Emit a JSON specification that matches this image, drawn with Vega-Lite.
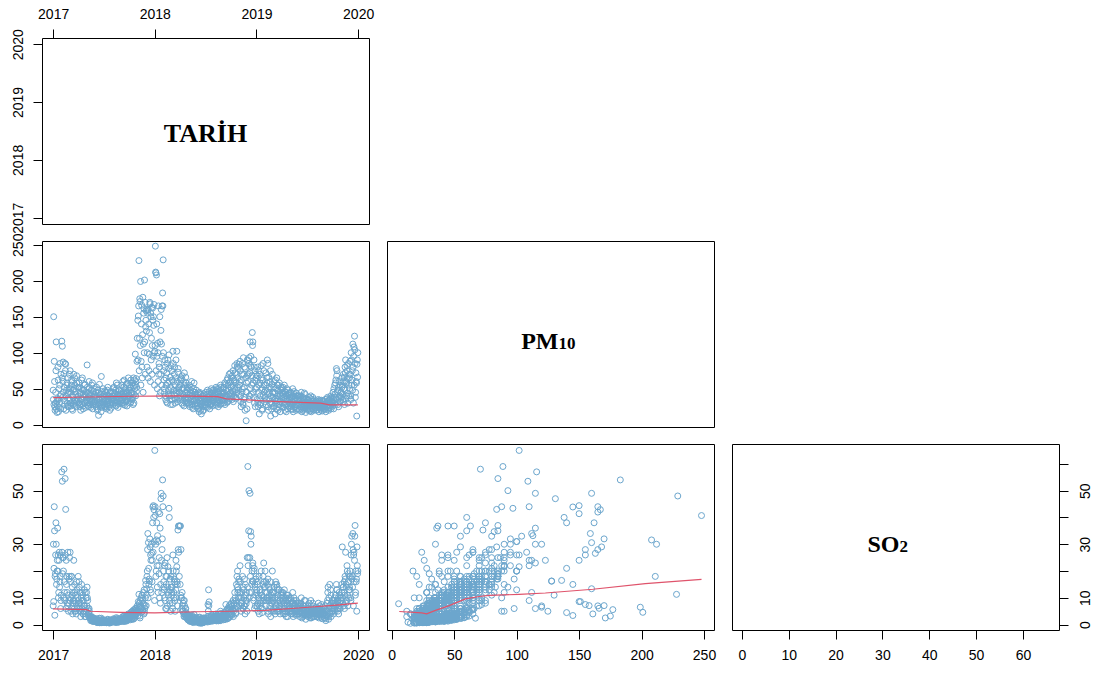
{
"$schema":"https://vega.github.io/schema/vega-lite/v6.json",
"padding":{"left":10,"top":6,"right":0,"bottom":0},
"background":"white",
"config":{"view":{"stroke":"#000","strokeWidth":1},
"axis":{"domain":false,"grid":false,"ticks":true,"tickColor":"#000","tickSize":9,"tickWidth":1,"tickCount":20,"labelFont":"Liberation Sans","labelFontSize":14,"labelColor":"#000","labelFlush":false,"labelOverlap":false,"labelPadding":10}},
"datasets":{
"pol":[
{"d":"2017-01-01","p":48,"s":7},{"d":"2017-01-03","p":150,"s":8.6},{"d":"2017-01-05","p":88,"s":44},{"d":"2017-01-07","p":25,"s":3.5},{"d":"2017-01-09","p":30,"s":19},{"d":"2017-01-11","p":75,"s":38},{"d":"2017-01-13","p":22,"s":15},{"d":"2017-01-15","p":17,"s":20},{"d":"2017-01-17","p":36,"s":36},{"d":"2017-01-19","p":62,"s":26},{"d":"2017-01-21","p":35,"s":12},{"d":"2017-01-23","p":24,"s":27},{"d":"2017-01-25","p":55,"s":16},{"d":"2017-01-27","p":40,"s":26},{"d":"2017-01-29","p":70,"s":9},
{"d":"2017-02-01","p":116,"s":57},{"d":"2017-02-03","p":109,"s":53.5},{"d":"2017-02-05","p":60,"s":25},{"d":"2017-02-07","p":45,"s":20},{"d":"2017-02-09","p":71,"s":58},{"d":"2017-02-11","p":28,"s":12},{"d":"2017-02-13","p":85,"s":54.5},{"d":"2017-02-15","p":84,"s":43},{"d":"2017-02-17","p":40,"s":24},{"d":"2017-02-19","p":55,"s":18},{"d":"2017-02-21","p":30,"s":8},{"d":"2017-02-23","p":65,"s":27},{"d":"2017-02-25","p":25,"s":5},{"d":"2017-02-27","p":50,"s":17},
{"d":"2017-03-01","p":45,"s":25},{"d":"2017-03-03","p":75,"s":27},{"d":"2017-03-05","p":30,"s":10},{"d":"2017-03-07","p":55,"s":18},{"d":"2017-03-09","p":22,"s":6},{"d":"2017-03-11","p":60,"s":14},{"d":"2017-03-13","p":38,"s":8},{"d":"2017-03-15","p":28,"s":12},{"d":"2017-03-17","p":50,"s":9},{"d":"2017-03-19","p":65,"s":15},{"d":"2017-03-21","p":33,"s":5},{"d":"2017-03-23","p":42,"s":11},{"d":"2017-03-25","p":25,"s":4},{"d":"2017-03-27","p":58,"s":13},{"d":"2017-03-29","p":36,"s":7},
{"d":"2017-04-01","p":40,"s":18},{"d":"2017-04-03","p":30,"s":8},{"d":"2017-04-05","p":52,"s":14},{"d":"2017-04-07","p":25,"s":6},{"d":"2017-04-09","p":45,"s":12},{"d":"2017-04-11","p":35,"s":5},{"d":"2017-04-13","p":62,"s":15},{"d":"2017-04-15","p":28,"s":9},{"d":"2017-04-17","p":48,"s":11},{"d":"2017-04-19","p":22,"s":4},{"d":"2017-04-21","p":38,"s":7},{"d":"2017-04-23","p":55,"s":13},{"d":"2017-04-25","p":30,"s":3},{"d":"2017-04-27","p":42,"s":6},{"d":"2017-04-29","p":34,"s":10},
{"d":"2017-05-01","p":45,"s":12},{"d":"2017-05-03","p":83,"s":14},{"d":"2017-05-05","p":30,"s":9},{"d":"2017-05-07","p":38,"s":6},{"d":"2017-05-09","p":25,"s":4},{"d":"2017-05-11","p":50,"s":5},{"d":"2017-05-13","p":33,"s":3},{"d":"2017-05-15","p":42,"s":2.5},{"d":"2017-05-17","p":28,"s":2},{"d":"2017-05-19","p":55,"s":3},{"d":"2017-05-21","p":35,"s":1.8},{"d":"2017-05-23","p":22,"s":1.5},{"d":"2017-05-25","p":46,"s":2.2},{"d":"2017-05-27","p":30,"s":1.2},{"d":"2017-05-29","p":40,"s":1.6},
{"d":"2017-06-01","p":32,"s":1.4},{"d":"2017-06-03","p":45,"s":2},{"d":"2017-06-05","p":25,"s":1},{"d":"2017-06-07","p":38,"s":1.2},{"d":"2017-06-09","p":20,"s":0.8},{"d":"2017-06-11","p":48,"s":1.6},{"d":"2017-06-13","p":13,"s":0.9},{"d":"2017-06-15","p":35,"s":1.1},{"d":"2017-06-17","p":28,"s":0.7},{"d":"2017-06-19","p":42,"s":1.3},{"d":"2017-06-21","p":30,"s":0.9},{"d":"2017-06-23","p":67,"s":2.4},{"d":"2017-06-25","p":24,"s":1},{"d":"2017-06-27","p":36,"s":1.5},{"d":"2017-06-29","p":50,"s":1.8},
{"d":"2017-07-01","p":30,"s":1},{"d":"2017-07-03","p":42,"s":1.2},{"d":"2017-07-05","p":25,"s":0.8},{"d":"2017-07-07","p":38,"s":1.5},{"d":"2017-07-09","p":45,"s":1.3},{"d":"2017-07-11","p":22,"s":0.7},{"d":"2017-07-13","p":35,"s":1},{"d":"2017-07-15","p":48,"s":1.8},{"d":"2017-07-17","p":28,"s":0.9},{"d":"2017-07-19","p":40,"s":1.4},{"d":"2017-07-21","p":33,"s":1.1},{"d":"2017-07-23","p":20,"s":0.6},{"d":"2017-07-25","p":44,"s":1.6},{"d":"2017-07-27","p":31,"s":1.2},{"d":"2017-07-29","p":37,"s":1.5},
{"d":"2017-08-01","p":35,"s":1.3},{"d":"2017-08-03","p":45,"s":1.6},{"d":"2017-08-05","p":28,"s":1},{"d":"2017-08-07","p":52,"s":2},{"d":"2017-08-09","p":40,"s":1.4},{"d":"2017-08-11","p":30,"s":1.2},{"d":"2017-08-13","p":48,"s":1.9},{"d":"2017-08-15","p":26,"s":0.8},{"d":"2017-08-17","p":38,"s":1.5},{"d":"2017-08-19","p":55,"s":2.3},{"d":"2017-08-21","p":33,"s":1.1},{"d":"2017-08-23","p":42,"s":1.7},{"d":"2017-08-25","p":29,"s":1},{"d":"2017-08-27","p":47,"s":2.1},{"d":"2017-08-29","p":36,"s":1.6},
{"d":"2017-09-01","p":40,"s":1.8},{"d":"2017-09-03","p":30,"s":1.2},{"d":"2017-09-05","p":55,"s":2.6},{"d":"2017-09-07","p":35,"s":1.5},{"d":"2017-09-09","p":45,"s":2},{"d":"2017-09-11","p":28,"s":1.3},{"d":"2017-09-13","p":62,"s":3.2},{"d":"2017-09-15","p":38,"s":1.9},{"d":"2017-09-17","p":50,"s":2.4},{"d":"2017-09-19","p":32,"s":1.5},{"d":"2017-09-21","p":44,"s":2.8},{"d":"2017-09-23","p":26,"s":1.4},{"d":"2017-09-25","p":58,"s":3.6},{"d":"2017-09-27","p":36,"s":2.2},{"d":"2017-09-29","p":48,"s":3},
{"d":"2017-10-01","p":40,"s":2.5},{"d":"2017-10-03","p":55,"s":3.8},{"d":"2017-10-05","p":30,"s":1.8},{"d":"2017-10-07","p":62,"s":4.5},{"d":"2017-10-09","p":45,"s":3},{"d":"2017-10-11","p":35,"s":2.2},{"d":"2017-10-13","p":58,"s":5},{"d":"2017-10-15","p":28,"s":2},{"d":"2017-10-17","p":65,"s":5.5},{"d":"2017-10-19","p":42,"s":3.2},{"d":"2017-10-21","p":50,"s":4},{"d":"2017-10-23","p":98,"s":6},{"d":"2017-10-25","p":60,"s":6},{"d":"2017-10-27","p":46,"s":4.2},{"d":"2017-10-29","p":88,"s":5},
{"d":"2017-11-01","p":145,"s":3.4},{"d":"2017-11-03","p":151,"s":8.6},{"d":"2017-11-05","p":228,"s":11.3},{"d":"2017-11-07","p":120,"s":6.5},{"d":"2017-11-09","p":171,"s":2.5},{"d":"2017-11-11","p":199,"s":6.5},{"d":"2017-11-13","p":88,"s":10},{"d":"2017-11-15","p":166,"s":6.1},{"d":"2017-11-17","p":65,"s":9},{"d":"2017-11-19","p":177,"s":5.6},{"d":"2017-11-21","p":112,"s":12},{"d":"2017-11-23","p":161,"s":4},{"d":"2017-11-25","p":201,"s":4.6},{"d":"2017-11-27","p":170,"s":7.1},{"d":"2017-11-29","p":136,"s":16.5},
{"d":"2017-12-01","p":158,"s":7.1},{"d":"2017-12-03","p":160,"s":13.4},{"d":"2017-12-05","p":100,"s":20},{"d":"2017-12-07","p":159,"s":34},{"d":"2017-12-09","p":160,"s":30.6},{"d":"2017-12-11","p":75,"s":15},{"d":"2017-12-13","p":128,"s":16.2},{"d":"2017-12-15","p":168,"s":29},{"d":"2017-12-17","p":155,"s":26},{"d":"2017-12-19","p":90,"s":12},{"d":"2017-12-21","p":163,"s":26.6},{"d":"2017-12-23","p":110,"s":24},{"d":"2017-12-25","p":145,"s":43.9},{"d":"2017-12-27","p":150,"s":44.4},{"d":"2017-12-29","p":167,"s":42.9},{"d":"2017-12-31","p":55,"s":9},
{"d":"2018-01-01","p":102,"s":65},{"d":"2018-01-03","p":248,"s":40.7},{"d":"2018-01-05","p":211,"s":18},{"d":"2018-01-07","p":208,"s":31.6},{"d":"2018-01-09","p":95,"s":22},{"d":"2018-01-11","p":113,"s":33.2},{"d":"2018-01-13","p":60,"s":12},{"d":"2018-01-15","p":70,"s":22},{"d":"2018-01-17","p":80,"s":25},{"d":"2018-01-19","p":150,"s":41.4},{"d":"2018-01-21","p":45,"s":8},{"d":"2018-01-23","p":131,"s":47},{"d":"2018-01-25","p":112,"s":24},{"d":"2018-01-27","p":165,"s":28},{"d":"2018-01-29","p":183,"s":54},{"d":"2018-01-31","p":229,"s":48},
{"d":"2018-02-01","p":100,"s":20},{"d":"2018-02-03","p":62,"s":14},{"d":"2018-02-05","p":45,"s":10},{"d":"2018-02-07","p":80,"s":23},{"d":"2018-02-09","p":35,"s":6},{"d":"2018-02-11","p":55,"s":15},{"d":"2018-02-13","p":72,"s":18},{"d":"2018-02-15","p":30,"s":7},{"d":"2018-02-17","p":90,"s":21.6},{"d":"2018-02-19","p":48,"s":12},{"d":"2018-02-21","p":97,"s":43.4},{"d":"2018-02-23","p":40,"s":9},{"d":"2018-02-25","p":66,"s":17},{"d":"2018-02-27","p":28,"s":5},
{"d":"2018-03-01","p":50,"s":14},{"d":"2018-03-03","p":75,"s":12},{"d":"2018-03-05","p":35,"s":8},{"d":"2018-03-07","p":102,"s":26},{"d":"2018-03-09","p":60,"s":18},{"d":"2018-03-11","p":42,"s":10},{"d":"2018-03-13","p":80,"s":16},{"d":"2018-03-15","p":30,"s":5},{"d":"2018-03-17","p":65,"s":13},{"d":"2018-03-19","p":47,"s":20},{"d":"2018-03-21","p":102,"s":21.6},{"d":"2018-03-23","p":35,"s":15},{"d":"2018-03-25","p":73,"s":35.3},{"d":"2018-03-27","p":50,"s":36.8},{"d":"2018-03-29","p":37,"s":36.8},
{"d":"2018-04-01","p":45,"s":36.8},{"d":"2018-04-03","p":63,"s":36.8},{"d":"2018-04-05","p":65,"s":28},{"d":"2018-04-07","p":35,"s":10},{"d":"2018-04-09","p":68,"s":12},{"d":"2018-04-11","p":28,"s":5},{"d":"2018-04-13","p":50,"s":8},{"d":"2018-04-15","p":40,"s":4},{"d":"2018-04-17","p":72,"s":9},{"d":"2018-04-19","p":32,"s":3},{"d":"2018-04-21","p":45,"s":6},{"d":"2018-04-23","p":58,"s":4.5},{"d":"2018-04-25","p":30,"s":2.5},{"d":"2018-04-27","p":48,"s":3.5},{"d":"2018-04-29","p":38,"s":2},
{"d":"2018-05-01","p":42,"s":2.5},{"d":"2018-05-03","p":30,"s":1.8},{"d":"2018-05-05","p":55,"s":3.2},{"d":"2018-05-07","p":25,"s":1.2},{"d":"2018-05-09","p":48,"s":2.4},{"d":"2018-05-11","p":35,"s":1.5},{"d":"2018-05-13","p":60,"s":3.6},{"d":"2018-05-15","p":28,"s":1.1},{"d":"2018-05-17","p":40,"s":2},{"d":"2018-05-19","p":22,"s":0.8},{"d":"2018-05-21","p":50,"s":2.8},{"d":"2018-05-23","p":33,"s":1.4},{"d":"2018-05-25","p":45,"s":2.2},{"d":"2018-05-27","p":26,"s":0.9},{"d":"2018-05-29","p":38,"s":1.7},
{"d":"2018-06-01","p":30,"s":1.4},{"d":"2018-06-03","p":42,"s":2.2},{"d":"2018-06-05","p":22,"s":0.9},{"d":"2018-06-07","p":35,"s":1.6},{"d":"2018-06-09","p":18,"s":0.6},{"d":"2018-06-11","p":45,"s":2.8},{"d":"2018-06-13","p":28,"s":1.2},{"d":"2018-06-15","p":38,"s":1.9},{"d":"2018-06-17","p":15,"s":0.5},{"d":"2018-06-19","p":33,"s":1.5},{"d":"2018-06-21","p":25,"s":1},{"d":"2018-06-23","p":40,"s":2.4},{"d":"2018-06-25","p":20,"s":0.8},{"d":"2018-06-27","p":36,"s":1.7},{"d":"2018-06-29","p":28,"s":1.3},
{"d":"2018-07-01","p":32,"s":1.5},{"d":"2018-07-03","p":45,"s":2.4},{"d":"2018-07-05","p":25,"s":1.1},{"d":"2018-07-07","p":38,"s":1.8},{"d":"2018-07-09","p":48,"s":3},{"d":"2018-07-11","p":30,"s":7.5},{"d":"2018-07-13","p":42,"s":13},{"d":"2018-07-15","p":35,"s":8.5},{"d":"2018-07-17","p":22,"s":1.2},{"d":"2018-07-19","p":40,"s":2.2},{"d":"2018-07-21","p":28,"s":1.5},{"d":"2018-07-23","p":50,"s":3.4},{"d":"2018-07-25","p":33,"s":1.8},{"d":"2018-07-27","p":26,"s":1.3},{"d":"2018-07-29","p":44,"s":2.6},
{"d":"2018-08-01","p":35,"s":2},{"d":"2018-08-03","p":48,"s":3.2},{"d":"2018-08-05","p":28,"s":1.5},{"d":"2018-08-07","p":42,"s":2.6},{"d":"2018-08-09","p":52,"s":4},{"d":"2018-08-11","p":30,"s":1.8},{"d":"2018-08-13","p":45,"s":3},{"d":"2018-08-15","p":38,"s":2.4},{"d":"2018-08-17","p":25,"s":1.4},{"d":"2018-08-19","p":50,"s":3.8},{"d":"2018-08-21","p":33,"s":2.2},{"d":"2018-08-23","p":40,"s":2.8},{"d":"2018-08-25","p":55,"s":5},{"d":"2018-08-27","p":29,"s":1.7},{"d":"2018-08-29","p":44,"s":3.4},
{"d":"2018-09-01","p":38,"s":2.5},{"d":"2018-09-03","p":50,"s":3.5},{"d":"2018-09-05","p":30,"s":1.8},{"d":"2018-09-07","p":45,"s":3.2},{"d":"2018-09-09","p":58,"s":4.5},{"d":"2018-09-11","p":35,"s":2.4},{"d":"2018-09-13","p":48,"s":7.5},{"d":"2018-09-15","p":40,"s":3},{"d":"2018-09-17","p":62,"s":5.5},{"d":"2018-09-19","p":32,"s":2.2},{"d":"2018-09-21","p":55,"s":6},{"d":"2018-09-23","p":42,"s":4},{"d":"2018-09-25","p":70,"s":7},{"d":"2018-09-27","p":36,"s":3},{"d":"2018-09-29","p":60,"s":6.5},
{"d":"2018-10-01","p":45,"s":4},{"d":"2018-10-03","p":65,"s":8},{"d":"2018-10-05","p":35,"s":3.5},{"d":"2018-10-07","p":55,"s":6},{"d":"2018-10-09","p":75,"s":9},{"d":"2018-10-11","p":40,"s":5},{"d":"2018-10-13","p":60,"s":7.5},{"d":"2018-10-15","p":82,"s":12},{"d":"2018-10-17","p":48,"s":6},{"d":"2018-10-19","p":38,"s":4.5},{"d":"2018-10-21","p":70,"s":15},{"d":"2018-10-23","p":85,"s":18},{"d":"2018-10-25","p":52,"s":20},{"d":"2018-10-27","p":78,"s":13},{"d":"2018-10-29","p":42,"s":16},
{"d":"2018-11-01","p":60,"s":10},{"d":"2018-11-03","p":88,"s":22},{"d":"2018-11-05","p":40,"s":8},{"d":"2018-11-07","p":25,"s":5},{"d":"2018-11-09","p":70,"s":12},{"d":"2018-11-11","p":50,"s":9},{"d":"2018-11-13","p":30,"s":6},{"d":"2018-11-15","p":93,"s":14},{"d":"2018-11-17","p":35,"s":7},{"d":"2018-11-19","p":80,"s":17},{"d":"2018-11-21","p":20,"s":4},{"d":"2018-11-23","p":65,"s":11},{"d":"2018-11-25","p":5.5,"s":7.8},{"d":"2018-11-27","p":45,"s":9},{"d":"2018-11-29","p":90,"s":25},
{"d":"2018-12-01","p":89,"s":59},{"d":"2018-12-03","p":70,"s":25},{"d":"2018-12-05","p":93,"s":50},{"d":"2018-12-07","p":40,"s":12},{"d":"2018-12-09","p":115,"s":49},{"d":"2018-12-11","p":82,"s":34.7},{"d":"2018-12-13","p":80,"s":33},{"d":"2018-12-15","p":55,"s":15},{"d":"2018-12-17","p":128,"s":16.3},{"d":"2018-12-19","p":115,"s":23},{"d":"2018-12-21","p":45,"s":10},{"d":"2018-12-23","p":90,"s":20},{"d":"2018-12-25","p":30,"s":6},{"d":"2018-12-27","p":75,"s":14},{"d":"2018-12-29","p":50,"s":11},{"d":"2018-12-31","p":65,"s":18},
{"d":"2019-01-01","p":60,"s":12},{"d":"2019-01-03","p":35,"s":7},{"d":"2019-01-05","p":80,"s":15},{"d":"2019-01-07","p":25,"s":5},{"d":"2019-01-09","p":55,"s":10},{"d":"2019-01-11","p":15,"s":4},{"d":"2019-01-13","p":70,"s":13},{"d":"2019-01-15","p":40,"s":8},{"d":"2019-01-17","p":30,"s":6},{"d":"2019-01-19","p":65,"s":11},{"d":"2019-01-21","p":20,"s":4.5},{"d":"2019-01-23","p":50,"s":9},{"d":"2019-01-25","p":85,"s":18},{"d":"2019-01-27","p":75,"s":23},{"d":"2019-01-29","p":45,"s":14},
{"d":"2019-02-01","p":38,"s":20},{"d":"2019-02-03","p":55,"s":12},{"d":"2019-02-05","p":28,"s":7},{"d":"2019-02-07","p":65,"s":10},{"d":"2019-02-09","p":90,"s":15},{"d":"2019-02-11","p":85,"s":17},{"d":"2019-02-13","p":20,"s":4},{"d":"2019-02-15","p":45,"s":9},{"d":"2019-02-17","p":35,"s":6},{"d":"2019-02-19","p":60,"s":13},{"d":"2019-02-21","p":12,"s":3},{"d":"2019-02-23","p":50,"s":11},{"d":"2019-02-25","p":30,"s":8},{"d":"2019-02-27","p":70,"s":20},
{"d":"2019-03-01","p":45,"s":12},{"d":"2019-03-03","p":25,"s":6},{"d":"2019-03-05","p":60,"s":14},{"d":"2019-03-07","p":35,"s":8},{"d":"2019-03-09","p":15,"s":4},{"d":"2019-03-11","p":50,"s":16},{"d":"2019-03-13","p":30,"s":7},{"d":"2019-03-15","p":65,"s":15},{"d":"2019-03-17","p":40,"s":10},{"d":"2019-03-19","p":20,"s":5},{"d":"2019-03-21","p":55,"s":13},{"d":"2019-03-23","p":28,"s":6},{"d":"2019-03-25","p":42,"s":9},{"d":"2019-03-27","p":18,"s":4},{"d":"2019-03-29","p":48,"s":11},
{"d":"2019-04-01","p":38,"s":8},{"d":"2019-04-03","p":50,"s":12},{"d":"2019-04-05","p":25,"s":5},{"d":"2019-04-07","p":42,"s":9},{"d":"2019-04-09","p":30,"s":6},{"d":"2019-04-11","p":55,"s":13},{"d":"2019-04-13","p":20,"s":4},{"d":"2019-04-15","p":35,"s":7},{"d":"2019-04-17","p":45,"s":10},{"d":"2019-04-19","p":28,"s":5},{"d":"2019-04-21","p":40,"s":8},{"d":"2019-04-23","p":22,"s":3},{"d":"2019-04-25","p":48,"s":11},{"d":"2019-04-27","p":32,"s":6},{"d":"2019-04-29","p":36,"s":7},
{"d":"2019-05-01","p":30,"s":6},{"d":"2019-05-03","p":45,"s":10},{"d":"2019-05-05","p":22,"s":4},{"d":"2019-05-07","p":38,"s":8},{"d":"2019-05-09","p":28,"s":5},{"d":"2019-05-11","p":50,"s":12},{"d":"2019-05-13","p":18,"s":3},{"d":"2019-05-15","p":35,"s":7},{"d":"2019-05-17","p":42,"s":9},{"d":"2019-05-19","p":25,"s":5},{"d":"2019-05-21","p":33,"s":6},{"d":"2019-05-23","p":20,"s":3.5},{"d":"2019-05-25","p":40,"s":8},{"d":"2019-05-27","p":27,"s":5},{"d":"2019-05-29","p":36,"s":7},
{"d":"2019-06-01","p":28,"s":5},{"d":"2019-06-03","p":40,"s":8},{"d":"2019-06-05","p":20,"s":3},{"d":"2019-06-07","p":35,"s":6},{"d":"2019-06-09","p":25,"s":4.5},{"d":"2019-06-11","p":45,"s":10},{"d":"2019-06-13","p":18,"s":2.5},{"d":"2019-06-15","p":30,"s":5.5},{"d":"2019-06-17","p":38,"s":7},{"d":"2019-06-19","p":22,"s":3.5},{"d":"2019-06-21","p":33,"s":6},{"d":"2019-06-23","p":26,"s":4},{"d":"2019-06-25","p":42,"s":9},{"d":"2019-06-27","p":17,"s":2},{"d":"2019-06-29","p":30,"s":5},
{"d":"2019-07-01","p":25,"s":4},{"d":"2019-07-03","p":35,"s":6},{"d":"2019-07-05","p":20,"s":3},{"d":"2019-07-07","p":30,"s":5},{"d":"2019-07-09","p":38,"s":8},{"d":"2019-07-11","p":22,"s":3.5},{"d":"2019-07-13","p":28,"s":4.5},{"d":"2019-07-15","p":40,"s":9},{"d":"2019-07-17","p":18,"s":2.5},{"d":"2019-07-19","p":32,"s":5.5},{"d":"2019-07-21","p":26,"s":4},{"d":"2019-07-23","p":35,"s":7},{"d":"2019-07-25","p":20,"s":3},{"d":"2019-07-27","p":29,"s":5},{"d":"2019-07-29","p":24,"s":4},
{"d":"2019-08-01","p":27,"s":5},{"d":"2019-08-03","p":33,"s":6.5},{"d":"2019-08-05","p":20,"s":3},{"d":"2019-08-07","p":30,"s":5.5},{"d":"2019-08-09","p":24,"s":4},{"d":"2019-08-11","p":35,"s":8},{"d":"2019-08-13","p":18,"s":2.5},{"d":"2019-08-15","p":28,"s":5},{"d":"2019-08-17","p":32,"s":6},{"d":"2019-08-19","p":22,"s":3.5},{"d":"2019-08-21","p":26,"s":4.5},{"d":"2019-08-23","p":34,"s":7.5},{"d":"2019-08-25","p":19,"s":2.2},{"d":"2019-08-27","p":29,"s":5},{"d":"2019-08-29","p":25,"s":4},
{"d":"2019-09-01","p":28,"s":4},{"d":"2019-09-03","p":22,"s":2.5},{"d":"2019-09-05","p":35,"s":7},{"d":"2019-09-07","p":18,"s":1.5},{"d":"2019-09-09","p":30,"s":5},{"d":"2019-09-11","p":25,"s":3},{"d":"2019-09-13","p":38,"s":9},{"d":"2019-09-15","p":32,"s":14},{"d":"2019-09-17","p":20,"s":2},{"d":"2019-09-19","p":27,"s":6},{"d":"2019-09-21","p":35,"s":15},{"d":"2019-09-23","p":24,"s":4},{"d":"2019-09-25","p":40,"s":11},{"d":"2019-09-27","p":29,"s":8},{"d":"2019-09-29","p":33,"s":5},
{"d":"2019-10-01","p":30,"s":6},{"d":"2019-10-03","p":45,"s":8},{"d":"2019-10-05","p":22,"s":4},{"d":"2019-10-07","p":38,"s":7},{"d":"2019-10-09","p":55,"s":10},{"d":"2019-10-11","p":28,"s":5},{"d":"2019-10-13","p":62,"s":11},{"d":"2019-10-15","p":78,"s":15},{"d":"2019-10-17","p":75,"s":13},{"d":"2019-10-19","p":35,"s":6},{"d":"2019-10-21","p":48,"s":9},{"d":"2019-10-23","p":25,"s":4},{"d":"2019-10-25","p":60,"s":12},{"d":"2019-10-27","p":40,"s":8},{"d":"2019-10-29","p":32,"s":6},
{"d":"2019-11-01","p":45,"s":10},{"d":"2019-11-03","p":65,"s":15},{"d":"2019-11-05","p":55,"s":29},{"d":"2019-11-07","p":35,"s":8},{"d":"2019-11-09","p":70,"s":14},{"d":"2019-11-11","p":50,"s":12},{"d":"2019-11-13","p":28,"s":6},{"d":"2019-11-15","p":80,"s":18},{"d":"2019-11-17","p":90,"s":27},{"d":"2019-11-19","p":60,"s":15},{"d":"2019-11-21","p":40,"s":9},{"d":"2019-11-23","p":75,"s":20},{"d":"2019-11-25","p":30,"s":7},{"d":"2019-11-27","p":85,"s":19},{"d":"2019-11-29","p":55,"s":13},
{"d":"2019-12-01","p":65,"s":14},{"d":"2019-12-03","p":88,"s":20},{"d":"2019-12-05","p":40,"s":10},{"d":"2019-12-07","p":100,"s":26},{"d":"2019-12-09","p":55,"s":33},{"d":"2019-12-11","p":75,"s":18},{"d":"2019-12-13","p":112,"s":34},{"d":"2019-12-15","p":30,"s":7},{"d":"2019-12-17","p":108,"s":27},{"d":"2019-12-19","p":123,"s":24},{"d":"2019-12-21","p":85,"s":37},{"d":"2019-12-23","p":45,"s":12},{"d":"2019-12-25","p":60,"s":16},{"d":"2019-12-27","p":12,"s":5},{"d":"2019-12-29","p":90,"s":22},{"d":"2019-12-31","p":100,"s":20},
{"d":"2017-01-02","p":35,"s":30},{"d":"2017-01-04","p":28,"s":21},{"d":"2017-01-06","p":60,"s":35},{"d":"2017-01-08","p":20,"s":18},{"d":"2017-01-10","p":45,"s":26},{"d":"2017-01-12","p":115,"s":30},{"d":"2017-01-14","p":32,"s":17},{"d":"2017-01-16","p":26,"s":24},{"d":"2017-01-18","p":80,"s":20},{"d":"2017-01-20","p":18,"s":10},{"d":"2017-01-22","p":50,"s":24},{"d":"2017-01-24","p":30,"s":14},{"d":"2017-01-26","p":85,"s":18},{"d":"2017-01-28","p":22,"s":6},{"d":"2017-01-30","p":42,"s":11},
{"d":"2017-02-02","p":65,"s":27},{"d":"2017-02-04","p":38,"s":19},{"d":"2017-02-06","p":87,"s":25},{"d":"2017-02-08","p":22,"s":10},{"d":"2017-02-10","p":52,"s":16},{"d":"2017-02-12","p":33,"s":9},{"d":"2017-02-14","p":75,"s":26},{"d":"2017-02-16","p":20,"s":6},{"d":"2017-02-18","p":48,"s":15},{"d":"2017-02-20","p":58,"s":12},{"d":"2017-02-22","p":26,"s":7},{"d":"2017-02-24","p":44,"s":11},{"d":"2017-02-26","p":36,"s":8},{"d":"2017-02-28","p":70,"s":18},
{"d":"2017-03-02","p":35,"s":9},{"d":"2017-03-04","p":50,"s":16},{"d":"2017-03-06","p":26,"s":5},{"d":"2017-03-08","p":62,"s":18},{"d":"2017-03-10","p":40,"s":11},{"d":"2017-03-12","p":20,"s":4},{"d":"2017-03-14","p":48,"s":9},{"d":"2017-03-16","p":70,"s":24},{"d":"2017-03-18","p":30,"s":6},{"d":"2017-03-20","p":55,"s":12},{"d":"2017-03-22","p":27,"s":5},{"d":"2017-03-24","p":46,"s":8},{"d":"2017-03-26","p":68,"s":16},{"d":"2017-03-28","p":32,"s":6},{"d":"2017-03-30","p":52,"s":10},
{"d":"2017-04-02","p":35,"s":9},{"d":"2017-04-04","p":58,"s":16},{"d":"2017-04-06","p":28,"s":5},{"d":"2017-04-08","p":44,"s":8},{"d":"2017-04-10","p":20,"s":3},{"d":"2017-04-12","p":50,"s":10},{"d":"2017-04-14","p":36,"s":6},{"d":"2017-04-16","p":65,"s":12},{"d":"2017-04-18","p":26,"s":4},{"d":"2017-04-20","p":42,"s":9},{"d":"2017-04-22","p":48,"s":5},{"d":"2017-04-24","p":32,"s":7},{"d":"2017-04-26","p":56,"s":12},{"d":"2017-04-28","p":24,"s":3},{"d":"2017-04-30","p":40,"s":5},
{"d":"2017-05-02","p":35,"s":7},{"d":"2017-05-04","p":52,"s":10},{"d":"2017-05-06","p":27,"s":3.5},{"d":"2017-05-08","p":44,"s":4},{"d":"2017-05-10","p":60,"s":6},{"d":"2017-05-12","p":30,"s":2.5},{"d":"2017-05-14","p":40,"s":3},{"d":"2017-05-16","p":24,"s":1.5},{"d":"2017-05-18","p":48,"s":2.8},{"d":"2017-05-20","p":32,"s":1.4},{"d":"2017-05-22","p":58,"s":2.6},{"d":"2017-05-24","p":28,"s":1.2},{"d":"2017-05-26","p":38,"s":1.8},{"d":"2017-05-28","p":50,"s":2.4},{"d":"2017-05-30","p":33,"s":1.5},
{"d":"2017-06-02","p":40,"s":1.8},{"d":"2017-06-04","p":28,"s":1},{"d":"2017-06-06","p":52,"s":2.2},{"d":"2017-06-08","p":34,"s":1.3},{"d":"2017-06-10","p":22,"s":0.8},{"d":"2017-06-12","p":44,"s":1.7},{"d":"2017-06-14","p":30,"s":1},{"d":"2017-06-16","p":56,"s":2.4},{"d":"2017-06-18","p":25,"s":0.9},{"d":"2017-06-20","p":38,"s":1.4},{"d":"2017-06-22","p":18,"s":0.7},{"d":"2017-06-24","p":46,"s":1.9},{"d":"2017-06-26","p":31,"s":1.2},{"d":"2017-06-28","p":27,"s":0.8},{"d":"2017-06-30","p":40,"s":1.5},
{"d":"2017-07-02","p":36,"s":1.3},{"d":"2017-07-04","p":27,"s":0.9},{"d":"2017-07-06","p":47,"s":1.7},{"d":"2017-07-08","p":32,"s":1.1},{"d":"2017-07-10","p":24,"s":0.8},{"d":"2017-07-12","p":41,"s":1.4},{"d":"2017-07-14","p":29,"s":1},{"d":"2017-07-16","p":52,"s":2},{"d":"2017-07-18","p":34,"s":1.2},{"d":"2017-07-20","p":25,"s":0.7},{"d":"2017-07-22","p":39,"s":1.3},{"d":"2017-07-24","p":30,"s":1},{"d":"2017-07-26","p":46,"s":1.8},{"d":"2017-07-28","p":23,"s":0.8},{"d":"2017-07-30","p":35,"s":1.3},
{"d":"2017-08-02","p":30,"s":1.1},{"d":"2017-08-04","p":40,"s":1.5},{"d":"2017-08-06","p":50,"s":2.2},{"d":"2017-08-08","p":33,"s":1.2},{"d":"2017-08-10","p":44,"s":1.8},{"d":"2017-08-12","p":27,"s":0.9},{"d":"2017-08-14","p":37,"s":1.4},{"d":"2017-08-16","p":58,"s":2.6},{"d":"2017-08-18","p":31,"s":1.1},{"d":"2017-08-20","p":41,"s":1.6},{"d":"2017-08-22","p":24,"s":0.9},{"d":"2017-08-24","p":49,"s":2},{"d":"2017-08-26","p":36,"s":1.3},{"d":"2017-08-28","p":43,"s":1.8},{"d":"2017-08-30","p":32,"s":1.2},
{"d":"2017-09-02","p":46,"s":2.1},{"d":"2017-09-04","p":34,"s":1.5},{"d":"2017-09-06","p":42,"s":1.9},{"d":"2017-09-08","p":60,"s":3},{"d":"2017-09-10","p":30,"s":1.3},{"d":"2017-09-12","p":52,"s":2.5},{"d":"2017-09-14","p":40,"s":2},{"d":"2017-09-16","p":27,"s":1.2},{"d":"2017-09-18","p":47,"s":2.3},{"d":"2017-09-20","p":56,"s":3.1},{"d":"2017-09-22","p":33,"s":1.7},{"d":"2017-09-24","p":45,"s":2.4},{"d":"2017-09-26","p":38,"s":2},{"d":"2017-09-28","p":65,"s":4},{"d":"2017-09-30","p":42,"s":2.6},
{"d":"2017-10-02","p":48,"s":3.4},{"d":"2017-10-04","p":36,"s":2.5},{"d":"2017-10-06","p":52,"s":4},{"d":"2017-10-08","p":32,"s":2},{"d":"2017-10-10","p":58,"s":4.8},{"d":"2017-10-12","p":44,"s":3.3},{"d":"2017-10-14","p":38,"s":2.7},{"d":"2017-10-16","p":54,"s":4.5},{"d":"2017-10-18","p":30,"s":2.2},{"d":"2017-10-20","p":62,"s":5},{"d":"2017-10-22","p":55,"s":4.6},{"d":"2017-10-24","p":40,"s":3.2},{"d":"2017-10-26","p":64,"s":5.4},{"d":"2017-10-28","p":52,"s":4.4},{"d":"2017-10-30","p":120,"s":7},
{"d":"2017-11-02","p":90,"s":5},{"d":"2017-11-04","p":165,"s":7},{"d":"2017-11-06","p":75,"s":8},{"d":"2017-11-08","p":175,"s":3.2},{"d":"2017-11-10","p":110,"s":9},{"d":"2017-11-12","p":55,"s":6},{"d":"2017-11-14","p":140,"s":4.5},{"d":"2017-11-16","p":80,"s":11},{"d":"2017-11-18","p":125,"s":5},{"d":"2017-11-20","p":45,"s":8},{"d":"2017-11-22","p":155,"s":7.5},{"d":"2017-11-24","p":100,"s":13},{"d":"2017-11-26","p":115,"s":6},{"d":"2017-11-28","p":70,"s":10},{"d":"2017-11-30","p":145,"s":15},
{"d":"2017-12-02","p":130,"s":11},{"d":"2017-12-04","p":80,"s":18},{"d":"2017-12-06","p":155,"s":28},{"d":"2017-12-08","p":65,"s":10},{"d":"2017-12-10","p":140,"s":21},{"d":"2017-12-12","p":98,"s":17},{"d":"2017-12-14","p":170,"s":32},{"d":"2017-12-16","p":60,"s":13},{"d":"2017-12-18","p":150,"s":24},{"d":"2017-12-20","p":120,"s":30},{"d":"2017-12-22","p":70,"s":16},{"d":"2017-12-24","p":162,"s":38},{"d":"2017-12-26","p":95,"s":27},{"d":"2017-12-28","p":138,"s":40},{"d":"2017-12-30","p":100,"s":31},
{"d":"2018-01-02","p":110,"s":44},{"d":"2018-01-04","p":212,"s":30},{"d":"2018-01-06","p":75,"s":20},{"d":"2018-01-08","p":140,"s":38},{"d":"2018-01-10","p":50,"s":14},{"d":"2018-01-12","p":100,"s":31},{"d":"2018-01-14","p":165,"s":42},{"d":"2018-01-16","p":85,"s":19},{"d":"2018-01-18","p":40,"s":10},{"d":"2018-01-20","p":115,"s":36},{"d":"2018-01-22","p":70,"s":15},{"d":"2018-01-24","p":160,"s":49},{"d":"2018-01-26","p":55,"s":12},{"d":"2018-01-28","p":95,"s":32},{"d":"2018-01-30","p":165,"s":44},
{"d":"2018-02-02","p":75,"s":16},{"d":"2018-02-04","p":50,"s":13},{"d":"2018-02-06","p":90,"s":22},{"d":"2018-02-08","p":40,"s":9},{"d":"2018-02-10","p":65,"s":18},{"d":"2018-02-12","p":32,"s":6},{"d":"2018-02-14","p":85,"s":25},{"d":"2018-02-16","p":58,"s":14},{"d":"2018-02-18","p":42,"s":11},{"d":"2018-02-20","p":78,"s":20},{"d":"2018-02-22","p":60,"s":40},{"d":"2018-02-24","p":35,"s":8},{"d":"2018-02-26","p":52,"s":13},{"d":"2018-02-28","p":82,"s":18},
{"d":"2018-03-02","p":40,"s":11},{"d":"2018-03-04","p":62,"s":14},{"d":"2018-03-06","p":28,"s":6},{"d":"2018-03-08","p":85,"s":20},{"d":"2018-03-10","p":48,"s":12},{"d":"2018-03-12","p":70,"s":17},{"d":"2018-03-14","p":36,"s":9},{"d":"2018-03-16","p":55,"s":15},{"d":"2018-03-18","p":90,"s":24},{"d":"2018-03-20","p":44,"s":10},{"d":"2018-03-22","p":60,"s":16},{"d":"2018-03-24","p":32,"s":7},{"d":"2018-03-26","p":78,"s":28},{"d":"2018-03-28","p":52,"s":27},{"d":"2018-03-30","p":45,"s":18},
{"d":"2018-04-02","p":55,"s":15},{"d":"2018-04-04","p":40,"s":11},{"d":"2018-04-06","p":62,"s":10},{"d":"2018-04-08","p":30,"s":6},{"d":"2018-04-10","p":50,"s":7},{"d":"2018-04-12","p":42,"s":5},{"d":"2018-04-14","p":60,"s":9},{"d":"2018-04-16","p":26,"s":3},{"d":"2018-04-18","p":55,"s":7},{"d":"2018-04-20","p":38,"s":4},{"d":"2018-04-22","p":66,"s":6},{"d":"2018-04-24","p":34,"s":3},{"d":"2018-04-26","p":44,"s":4},{"d":"2018-04-28","p":52,"s":3},{"d":"2018-04-30","p":30,"s":1.8},
{"d":"2018-05-02","p":36,"s":2},{"d":"2018-05-04","p":50,"s":3},{"d":"2018-05-06","p":28,"s":1.4},{"d":"2018-05-08","p":44,"s":2.6},{"d":"2018-05-10","p":32,"s":1.6},{"d":"2018-05-12","p":52,"s":3.2},{"d":"2018-05-14","p":40,"s":2.2},{"d":"2018-05-16","p":24,"s":1},{"d":"2018-05-18","p":46,"s":2.5},{"d":"2018-05-20","p":34,"s":1.6},{"d":"2018-05-22","p":58,"s":3.8},{"d":"2018-05-24","p":29,"s":1.2},{"d":"2018-05-26","p":42,"s":2.3},{"d":"2018-05-28","p":35,"s":1.8},{"d":"2018-05-30","p":48,"s":2.7},
{"d":"2018-06-02","p":26,"s":1.1},{"d":"2018-06-04","p":38,"s":1.8},{"d":"2018-06-06","p":30,"s":1.3},{"d":"2018-06-08","p":44,"s":2.6},{"d":"2018-06-10","p":24,"s":0.9},{"d":"2018-06-12","p":34,"s":1.6},{"d":"2018-06-14","p":20,"s":0.7},{"d":"2018-06-16","p":42,"s":2.2},{"d":"2018-06-18","p":29,"s":1.2},{"d":"2018-06-20","p":37,"s":1.9},{"d":"2018-06-22","p":19,"s":0.7},{"d":"2018-06-24","p":31,"s":1.4},{"d":"2018-06-26","p":43,"s":2.5},{"d":"2018-06-28","p":25,"s":1},{"d":"2018-06-30","p":35,"s":1.7},
{"d":"2018-07-02","p":28,"s":1.2},{"d":"2018-07-04","p":36,"s":1.7},{"d":"2018-07-06","p":42,"s":2.3},{"d":"2018-07-08","p":30,"s":1.4},{"d":"2018-07-10","p":24,"s":1},{"d":"2018-07-12","p":38,"s":5},{"d":"2018-07-14","p":34,"s":7},{"d":"2018-07-16","p":46,"s":3.2},{"d":"2018-07-18","p":27,"s":1.3},{"d":"2018-07-20","p":35,"s":1.8},{"d":"2018-07-22","p":44,"s":2.8},{"d":"2018-07-24","p":30,"s":1.5},{"d":"2018-07-26","p":38,"s":2.1},{"d":"2018-07-28","p":48,"s":3.3},{"d":"2018-07-30","p":32,"s":1.7},
{"d":"2018-08-02","p":40,"s":2.6},{"d":"2018-08-04","p":31,"s":1.8},{"d":"2018-08-06","p":46,"s":3},{"d":"2018-08-08","p":36,"s":2.2},{"d":"2018-08-10","p":27,"s":1.4},{"d":"2018-08-12","p":50,"s":3.6},{"d":"2018-08-14","p":34,"s":2},{"d":"2018-08-16","p":43,"s":2.9},{"d":"2018-08-18","p":30,"s":1.6},{"d":"2018-08-20","p":47,"s":3.2},{"d":"2018-08-22","p":38,"s":2.5},{"d":"2018-08-24","p":28,"s":1.5},{"d":"2018-08-26","p":52,"s":4.2},{"d":"2018-08-28","p":40,"s":2.7},{"d":"2018-08-30","p":34,"s":2.1},
{"d":"2018-09-02","p":44,"s":3},{"d":"2018-09-04","p":33,"s":2.3},{"d":"2018-09-06","p":52,"s":4},{"d":"2018-09-08","p":40,"s":2.8},{"d":"2018-09-10","p":28,"s":1.9},{"d":"2018-09-12","p":56,"s":5},{"d":"2018-09-14","p":37,"s":2.7},{"d":"2018-09-16","p":46,"s":3.6},{"d":"2018-09-18","p":31,"s":2.2},{"d":"2018-09-20","p":65,"s":6},{"d":"2018-09-22","p":48,"s":4.2},{"d":"2018-09-24","p":34,"s":2.6},{"d":"2018-09-26","p":58,"s":5.5},{"d":"2018-09-28","p":43,"s":3.8},{"d":"2018-09-30","p":72,"s":7.5},
{"d":"2018-10-02","p":52,"s":5},{"d":"2018-10-04","p":40,"s":4},{"d":"2018-10-06","p":68,"s":7},{"d":"2018-10-08","p":46,"s":5.5},{"d":"2018-10-10","p":32,"s":3},{"d":"2018-10-12","p":62,"s":8},{"d":"2018-10-14","p":50,"s":6},{"d":"2018-10-16","p":72,"s":10},{"d":"2018-10-18","p":36,"s":4},{"d":"2018-10-20","p":58,"s":9},{"d":"2018-10-22","p":44,"s":7},{"d":"2018-10-24","p":80,"s":14},{"d":"2018-10-26","p":65,"s":12},{"d":"2018-10-28","p":48,"s":10},{"d":"2018-10-30","p":84,"s":17},
{"d":"2018-11-02","p":55,"s":12},{"d":"2018-11-04","p":75,"s":16},{"d":"2018-11-06","p":32,"s":7},{"d":"2018-11-08","p":62,"s":10},{"d":"2018-11-10","p":45,"s":8},{"d":"2018-11-12","p":85,"s":18},{"d":"2018-11-14","p":28,"s":6},{"d":"2018-11-16","p":70,"s":13},{"d":"2018-11-18","p":52,"s":10},{"d":"2018-11-20","p":38,"s":7},{"d":"2018-11-22","p":78,"s":15},{"d":"2018-11-24","p":46,"s":9},{"d":"2018-11-26","p":58,"s":12},{"d":"2018-11-28","p":22,"s":5},{"d":"2018-11-30","p":68,"s":14},
{"d":"2018-12-02","p":60,"s":22},{"d":"2018-12-04","p":85,"s":35},{"d":"2018-12-06","p":35,"s":10},{"d":"2018-12-08","p":72,"s":25},{"d":"2018-12-10","p":50,"s":18},{"d":"2018-12-12","p":95,"s":30},{"d":"2018-12-14","p":42,"s":12},{"d":"2018-12-16","p":68,"s":20},{"d":"2018-12-18","p":110,"s":22},{"d":"2018-12-20","p":58,"s":16},{"d":"2018-12-22","p":38,"s":9},{"d":"2018-12-24","p":80,"s":21},{"d":"2018-12-26","p":62,"s":15},{"d":"2018-12-28","p":25,"s":7},{"d":"2018-12-30","p":70,"s":17},
{"d":"2019-01-02","p":52,"s":13},{"d":"2019-01-04","p":68,"s":16},{"d":"2019-01-06","p":30,"s":8},{"d":"2019-01-08","p":45,"s":11},{"d":"2019-01-10","p":75,"s":18},{"d":"2019-01-12","p":28,"s":7},{"d":"2019-01-14","p":58,"s":12},{"d":"2019-01-16","p":35,"s":9},{"d":"2019-01-18","p":82,"s":20},{"d":"2019-01-20","p":48,"s":11},{"d":"2019-01-22","p":22,"s":6},{"d":"2019-01-24","p":62,"s":15},{"d":"2019-01-26","p":40,"s":10},{"d":"2019-01-28","p":55,"s":16},{"d":"2019-01-30","p":32,"s":9},
{"d":"2019-02-02","p":48,"s":14},{"d":"2019-02-04","p":72,"s":16},{"d":"2019-02-06","p":35,"s":9},{"d":"2019-02-08","p":58,"s":12},{"d":"2019-02-10","p":42,"s":10},{"d":"2019-02-12","p":25,"s":5},{"d":"2019-02-14","p":66,"s":14},{"d":"2019-02-16","p":52,"s":11},{"d":"2019-02-18","p":30,"s":7},{"d":"2019-02-20","p":75,"s":16},{"d":"2019-02-22","p":40,"s":9},{"d":"2019-02-24","p":22,"s":5},{"d":"2019-02-26","p":56,"s":12},{"d":"2019-02-28","p":44,"s":10},
{"d":"2019-03-02","p":38,"s":9},{"d":"2019-03-04","p":52,"s":12},{"d":"2019-03-06","p":26,"s":5},{"d":"2019-03-08","p":44,"s":10},{"d":"2019-03-10","p":62,"s":15},{"d":"2019-03-12","p":33,"s":7},{"d":"2019-03-14","p":22,"s":5},{"d":"2019-03-16","p":55,"s":14},{"d":"2019-03-18","p":36,"s":8},{"d":"2019-03-20","p":47,"s":11},{"d":"2019-03-22","p":24,"s":5},{"d":"2019-03-24","p":58,"s":13},{"d":"2019-03-26","p":32,"s":7},{"d":"2019-03-28","p":40,"s":9},{"d":"2019-03-30","p":52,"s":12},
{"d":"2019-04-02","p":44,"s":10},{"d":"2019-04-04","p":30,"s":6},{"d":"2019-04-06","p":52,"s":12},{"d":"2019-04-08","p":24,"s":4},{"d":"2019-04-10","p":38,"s":8},{"d":"2019-04-12","p":46,"s":10},{"d":"2019-04-14","p":28,"s":5},{"d":"2019-04-16","p":40,"s":9},{"d":"2019-04-18","p":18,"s":3},{"d":"2019-04-20","p":50,"s":11},{"d":"2019-04-22","p":34,"s":7},{"d":"2019-04-24","p":42,"s":9},{"d":"2019-04-26","p":26,"s":5},{"d":"2019-04-28","p":44,"s":10},{"d":"2019-04-30","p":30,"s":6},
{"d":"2019-05-02","p":38,"s":8},{"d":"2019-05-04","p":26,"s":5},{"d":"2019-05-06","p":44,"s":9},{"d":"2019-05-08","p":32,"s":6},{"d":"2019-05-10","p":21,"s":4},{"d":"2019-05-12","p":40,"s":8},{"d":"2019-05-14","p":30,"s":6},{"d":"2019-05-16","p":46,"s":10},{"d":"2019-05-18","p":24,"s":4},{"d":"2019-05-20","p":36,"s":7},{"d":"2019-05-22","p":28,"s":5},{"d":"2019-05-24","p":44,"s":9},{"d":"2019-05-26","p":22,"s":4},{"d":"2019-05-28","p":34,"s":6},{"d":"2019-05-30","p":40,"s":8},
{"d":"2019-06-02","p":34,"s":6},{"d":"2019-06-04","p":22,"s":4},{"d":"2019-06-06","p":38,"s":7},{"d":"2019-06-08","p":28,"s":5},{"d":"2019-06-10","p":40,"s":8},{"d":"2019-06-12","p":24,"s":4},{"d":"2019-06-14","p":32,"s":6},{"d":"2019-06-16","p":20,"s":3},{"d":"2019-06-18","p":36,"s":7},{"d":"2019-06-20","p":27,"s":5},{"d":"2019-06-22","p":44,"s":9},{"d":"2019-06-24","p":30,"s":5.5},{"d":"2019-06-26","p":23,"s":3.5},{"d":"2019-06-28","p":36,"s":7},{"d":"2019-06-30","p":26,"s":4.5},
{"d":"2019-07-02","p":30,"s":5},{"d":"2019-07-04","p":22,"s":3.5},{"d":"2019-07-06","p":34,"s":6},{"d":"2019-07-08","p":26,"s":4},{"d":"2019-07-10","p":32,"s":5.5},{"d":"2019-07-12","p":19,"s":2.5},{"d":"2019-07-14","p":36,"s":7},{"d":"2019-07-16","p":27,"s":4.5},{"d":"2019-07-18","p":30,"s":5},{"d":"2019-07-20","p":22,"s":3},{"d":"2019-07-22","p":38,"s":8},{"d":"2019-07-24","p":28,"s":4.5},{"d":"2019-07-26","p":33,"s":6},{"d":"2019-07-28","p":21,"s":3},{"d":"2019-07-30","p":30,"s":5},
{"d":"2019-08-02","p":24,"s":4},{"d":"2019-08-04","p":30,"s":5.5},{"d":"2019-08-06","p":26,"s":4.5},{"d":"2019-08-08","p":21,"s":3},{"d":"2019-08-10","p":32,"s":6},{"d":"2019-08-12","p":28,"s":5},{"d":"2019-08-14","p":23,"s":3.5},{"d":"2019-08-16","p":34,"s":7},{"d":"2019-08-18","p":25,"s":4},{"d":"2019-08-20","p":30,"s":5.5},{"d":"2019-08-22","p":20,"s":2.8},{"d":"2019-08-24","p":29,"s":5},{"d":"2019-08-26","p":24,"s":4},{"d":"2019-08-28","p":33,"s":6.5},{"d":"2019-08-30","p":27,"s":4.5},
{"d":"2019-09-02","p":26,"s":3.5},{"d":"2019-09-04","p":32,"s":6},{"d":"2019-09-06","p":21,"s":2.2},{"d":"2019-09-08","p":30,"s":5.5},{"d":"2019-09-10","p":24,"s":3.5},{"d":"2019-09-12","p":36,"s":8},{"d":"2019-09-14","p":28,"s":12},{"d":"2019-09-16","p":23,"s":3},{"d":"2019-09-18","p":34,"s":10},{"d":"2019-09-20","p":30,"s":7},{"d":"2019-09-22","p":26,"s":4.5},{"d":"2019-09-24","p":37,"s":13},{"d":"2019-09-26","p":22,"s":3},{"d":"2019-09-28","p":31,"s":6},{"d":"2019-09-30","p":38,"s":9},
{"d":"2019-10-02","p":26,"s":5},{"d":"2019-10-04","p":35,"s":7},{"d":"2019-10-06","p":50,"s":9},{"d":"2019-10-08","p":30,"s":6},{"d":"2019-10-10","p":42,"s":8},{"d":"2019-10-12","p":58,"s":11},{"d":"2019-10-14","p":36,"s":7},{"d":"2019-10-16","p":68,"s":13},{"d":"2019-10-18","p":46,"s":9},{"d":"2019-10-20","p":28,"s":5},{"d":"2019-10-22","p":52,"s":10},{"d":"2019-10-24","p":38,"s":7},{"d":"2019-10-26","p":32,"s":6},{"d":"2019-10-28","p":55,"s":11},{"d":"2019-10-30","p":44,"s":9},
{"d":"2019-11-02","p":38,"s":9},{"d":"2019-11-04","p":52,"s":12},{"d":"2019-11-06","p":42,"s":10},{"d":"2019-11-08","p":60,"s":14},{"d":"2019-11-10","p":32,"s":7},{"d":"2019-11-12","p":66,"s":16},{"d":"2019-11-14","p":48,"s":11},{"d":"2019-11-16","p":72,"s":17},{"d":"2019-11-18","p":36,"s":8},{"d":"2019-11-20","p":58,"s":14},{"d":"2019-11-22","p":82,"s":22},{"d":"2019-11-24","p":44,"s":11},{"d":"2019-11-26","p":64,"s":16},{"d":"2019-11-28","p":40,"s":10},{"d":"2019-11-30","p":70,"s":18},
{"d":"2019-12-02","p":50,"s":13},{"d":"2019-12-04","p":70,"s":18},{"d":"2019-12-06","p":35,"s":9},{"d":"2019-12-08","p":90,"s":30},{"d":"2019-12-10","p":62,"s":17},{"d":"2019-12-12","p":48,"s":14},{"d":"2019-12-14","p":80,"s":28},{"d":"2019-12-16","p":95,"s":26},{"d":"2019-12-18","p":55,"s":16},{"d":"2019-12-20","p":104,"s":33},{"d":"2019-12-22","p":38,"s":11},{"d":"2019-12-24","p":72,"s":20},{"d":"2019-12-26","p":58,"s":17},{"d":"2019-12-28","p":84,"s":29},{"d":"2019-12-30","p":66,"s":19}
],
"l1":[{"d":"2017-01-01","p":37.5},{"d":"2017-05-01","p":38.5},{"d":"2017-10-15","p":39.5},{"d":"2018-03-01","p":40},{"d":"2018-08-15","p":39},{"d":"2018-09-15","p":36},{"d":"2018-12-15","p":34},{"d":"2019-03-01","p":32.5},{"d":"2019-08-20","p":30},{"d":"2019-09-20","p":27.5},{"d":"2019-12-31","p":27.5}],
"l2":[{"d":"2017-01-01","s":5.9},{"d":"2017-05-01","s":5.6},{"d":"2017-05-15","s":5.0},{"d":"2017-09-01","s":4.6},{"d":"2018-01-01","s":4.4},{"d":"2018-06-01","s":4.8},{"d":"2018-10-01","s":5.0},{"d":"2019-02-01","s":5.3},{"d":"2019-06-01","s":6.2},{"d":"2019-10-15","s":7.3},{"d":"2019-12-31","s":8.0}],
"l3":[{"p":6,"s":4.9},{"p":24,"s":4.4},{"p":28,"s":4.0},{"p":35,"s":5.3},{"p":46,"s":7.1},{"p":59,"s":9.6},{"p":70,"s":10.5},{"p":78,"s":10.9},{"p":102,"s":11.3},{"p":123,"s":11.8},{"p":161,"s":13.2},{"p":203,"s":15.3},{"p":248,"s":16.9}]
},
"columns":3,
"spacing":{"row":17,"column":18},
"bounds":"flush",
"resolve":{"scale":{"x":"independent","y":"independent"}},
"concat":[
{"width":327,"height":186,
 "data":{"values":[{"v":"TARİH"}]},
 "mark":{"type":"text","font":"Liberation Serif","fontWeight":"bold","fontSize":26,"color":"#000","align":"center","baseline":"alphabetic","dy":11},
 "encoding":{
  "x":{"datum":{"year":2018,"month":7,"date":2},"type":"temporal","title":null,"scale":{"domain":[{"year":2016,"month":11,"date":22},{"year":2020,"month":2,"date":9}],"nice":false},
   "axis":{"orient":"top","values":[{"year":2017},{"year":2018},{"year":2019},{"year":2020}],"format":"%Y","tickCount":20,"labelBaseline":"alphabetic","labelPadding":11}},
  "y":{"datum":{"year":2018,"month":7,"date":2},"type":"temporal","title":null,"scale":{"domain":[{"year":2016,"month":11,"date":22},{"year":2020,"month":2,"date":9}],"nice":false},
   "axis":{"orient":"left","values":[{"year":2017},{"year":2018},{"year":2019},{"year":2020}],"format":"%Y","tickCount":20,"labelAngle":270,"labelAlign":"center","labelBaseline":"alphabetic","labelPadding":11}},
  "text":{"field":"v"}}},
{"width":327,"height":186,"view":{"stroke":null},"data":{"values":[]},"mark":"point"},
{"width":327,"height":186,"view":{"stroke":null},"data":{"values":[]},"mark":"point"},
{"width":327,"height":186,
  "layer":[
   {"data":{"name":"pol"},"mark":{"type":"point","shape":"circle","filled":false,"color":"#6CA6CD","size":36,"strokeWidth":1,"opacity":1},
    "encoding":{
     "x":{"field":"d","type":"temporal","title":null,"scale":{"domain":[{"year":2016,"month":11,"date":22},{"year":2020,"month":2,"date":9}],"nice":false},"axis":null},
     "y":{"field":"p","type":"quantitative","title":null,"scale":{"domain":[-3.2,255.2],"nice":false,"zero":false},
      "axis":{"orient":"left","values":[0,50,100,150,200,250],"tickCount":20,"labelAngle":270,"labelAlign":"center","labelBaseline":"alphabetic","labelPadding":11}}}},
   {"data":{"name":"l1"},"mark":{"type":"line","color":"#DF536B","strokeWidth":1.2},
    "encoding":{"x":{"field":"d","type":"temporal"},"y":{"field":"p","type":"quantitative"}}}
  ]},
{"width":327,"height":186,
  "layer":[
   {"data":{"values":[{"v":"PM"}]},"mark":{"type":"text","font":"Liberation Serif","fontWeight":"bold","fontSize":24,"color":"#000","align":"right","baseline":"alphabetic","dx":8,"dy":15},
    "encoding":{"x":{"datum":127.1,"type":"quantitative","title":null,"scale":{"domain":[-3.8,258],"nice":false,"zero":false},"axis":null},
     "y":{"datum":126,"type":"quantitative","title":null,"scale":{"domain":[-3.2,255.2],"nice":false,"zero":false},"axis":null},"text":{"field":"v"}}},
   {"data":{"values":[{"v":"10"}]},"mark":{"type":"text","font":"Liberation Serif","fontWeight":"bold","fontSize":17,"color":"#000","align":"left","baseline":"alphabetic","dx":8,"dy":15},
    "encoding":{"x":{"datum":127.1,"type":"quantitative"},"y":{"datum":126,"type":"quantitative"},"text":{"field":"v"}}}
  ]},
{"width":327,"height":186,"view":{"stroke":null},"data":{"values":[]},"mark":"point"},
{"width":327,"height":186,
  "layer":[
   {"data":{"name":"pol"},"mark":{"type":"point","shape":"circle","filled":false,"color":"#6CA6CD","size":36,"strokeWidth":1,"opacity":1},
    "encoding":{
     "x":{"field":"d","type":"temporal","title":null,"scale":{"domain":[{"year":2016,"month":11,"date":22},{"year":2020,"month":2,"date":9}],"nice":false},
      "axis":{"orient":"bottom","values":[{"year":2017},{"year":2018},{"year":2019},{"year":2020}],"format":"%Y","tickCount":20,"labelBaseline":"top","labelPadding":9}},
     "y":{"field":"s","type":"quantitative","title":null,"scale":{"domain":[-2,67.4],"nice":false,"zero":false},
      "axis":{"orient":"left","values":[0,10,20,30,40,50,60],"tickCount":20,"labelExpr":"(datum.value==20||datum.value==40||datum.value==60)?'':datum.label","labelAngle":270,"labelAlign":"center","labelBaseline":"alphabetic","labelPadding":11}}}},
   {"data":{"name":"l2"},"mark":{"type":"line","color":"#DF536B","strokeWidth":1.2},
    "encoding":{"x":{"field":"d","type":"temporal"},"y":{"field":"s","type":"quantitative"}}}
  ]},
{"width":327,"height":186,
  "layer":[
   {"data":{"name":"pol"},"mark":{"type":"point","shape":"circle","filled":false,"color":"#6CA6CD","size":36,"strokeWidth":1,"opacity":1},
    "encoding":{
     "x":{"field":"p","type":"quantitative","title":null,"scale":{"domain":[-3.8,258],"nice":false,"zero":false},
      "axis":{"orient":"bottom","values":[0,50,100,150,200,250],"tickCount":20,"labelBaseline":"top","labelPadding":9}},
     "y":{"field":"s","type":"quantitative","title":null,"scale":{"domain":[-2,67.4],"nice":false,"zero":false},"axis":null}}},
   {"data":{"name":"l3"},"mark":{"type":"line","color":"#DF536B","strokeWidth":1.2},
    "encoding":{"x":{"field":"p","type":"quantitative"},"y":{"field":"s","type":"quantitative"}}}
  ]},
{"width":327,"height":186,
  "layer":[
   {"data":{"values":[{"v":"SO"}]},"mark":{"type":"text","font":"Liberation Serif","fontWeight":"bold","fontSize":24,"color":"#000","align":"right","baseline":"alphabetic","dx":4,"dy":15},
    "encoding":{"x":{"datum":32.8,"type":"quantitative","title":null,"scale":{"domain":[-2.1,67.7],"nice":false,"zero":false},
      "axis":{"orient":"bottom","values":[0,10,20,30,40,50,60],"tickCount":20,"labelBaseline":"top","labelPadding":9}},
     "y":{"datum":32.7,"type":"quantitative","title":null,"scale":{"domain":[-2,67.4],"nice":false,"zero":false},
      "axis":{"orient":"right","values":[0,10,20,30,40,50,60],"tickCount":20,"labelExpr":"(datum.value==20||datum.value==40||datum.value==60)?'':datum.label","labelAngle":270,"labelAlign":"center","labelBaseline":"top","labelPadding":10}},
     "text":{"field":"v"}}},
   {"data":{"values":[{"v":"2"}]},"mark":{"type":"text","font":"Liberation Serif","fontWeight":"bold","fontSize":17,"color":"#000","align":"left","baseline":"alphabetic","dx":4,"dy":15},
    "encoding":{"x":{"datum":32.8,"type":"quantitative"},"y":{"datum":32.7,"type":"quantitative"},"text":{"field":"v"}}}
  ]}
]
}
